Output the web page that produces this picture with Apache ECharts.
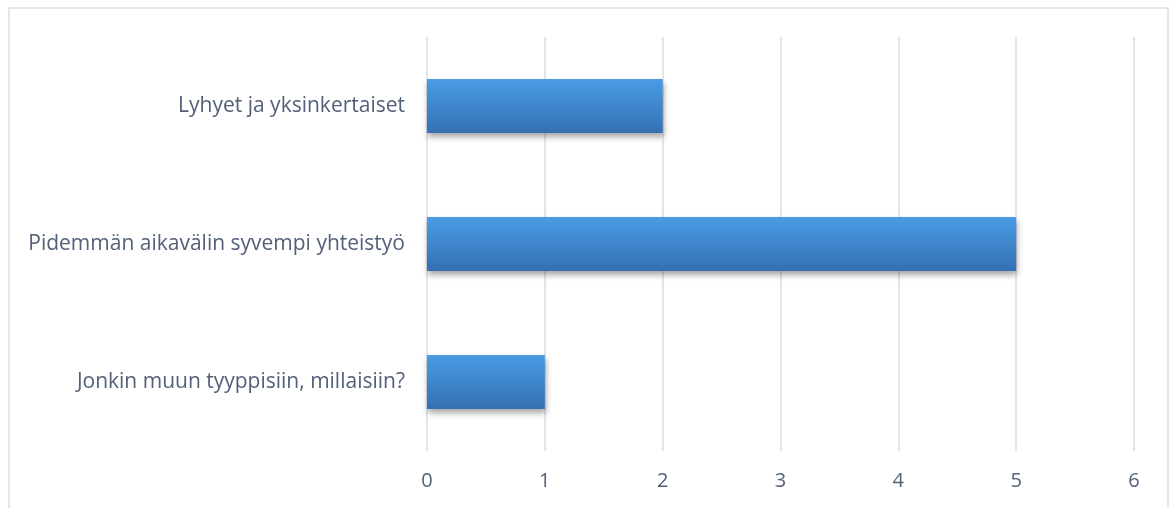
<!DOCTYPE html>
<html>
<head>
<meta charset="utf-8">
<script src="https://cdn.jsdelivr.net/npm/echarts@6/dist/echarts.min.js"></script>
<style>
html,body{margin:0;padding:0;background:#fff;}
#chart{width:1170px;height:508px;}
</style>
</head>
<body>
<div id="chart"></div>
<script>
const categories = ["Lyhyet ja yksinkertaiset", "Pidemmän aikavälin syvempi yhteistyö", "Jonkin muun tyyppisiin, millaisiin?"];
const values = [2, 5, 1];
const xTicks = [0, 1, 2, 3, 4, 5, 6];

const chart = echarts.init(document.getElementById('chart'), null, {renderer: 'canvas'});
chart.setOption({
  animation: false,
  backgroundColor: '#ffffff',
  graphic: [{
    type: 'rect',
    shape: {x: 9, y: 8, width: 1159, height: 520},
    style: {fill: 'none', stroke: '#e2e6ee', lineWidth: 2},
    silent: true
  }],
  grid: {left: 427, right: 36, top: 37, bottom: 57, containLabel: false},
  xAxis: {
    type: 'value',
    min: xTicks[0],
    max: xTicks[xTicks.length - 1],
    interval: 1,
    axisLine: {show: false},
    axisTick: {show: false},
    axisLabel: {color: '#53607a', fontSize: 20, fontFamily: 'Open Sans', margin: 20},
    splitLine: {show: true, lineStyle: {color: '#e1e5ed', width: 2}}
  },
  yAxis: {
    type: 'category',
    data: categories,
    inverse: true,
    axisLine: {show: false},
    axisTick: {show: false},
    axisLabel: {color: '#53607a', fontSize: 21, fontFamily: 'Open Sans', margin: 22},
    splitLine: {show: false}
  },
  series: [{
    type: 'bar',
    data: values,
    barCategoryGap: '61%',
    itemStyle: {
      color: new echarts.graphic.LinearGradient(0, 0, 0, 1, [
        {offset: 0, color: '#4a9ce5'},
        {offset: 1, color: '#3470b2'}
      ]),
      shadowColor: 'rgba(0,0,0,0.35)',
      shadowBlur: 6,
      shadowOffsetY: 4,
      shadowOffsetX: 1
    }
  }]
});
</script>
</body>
</html>
